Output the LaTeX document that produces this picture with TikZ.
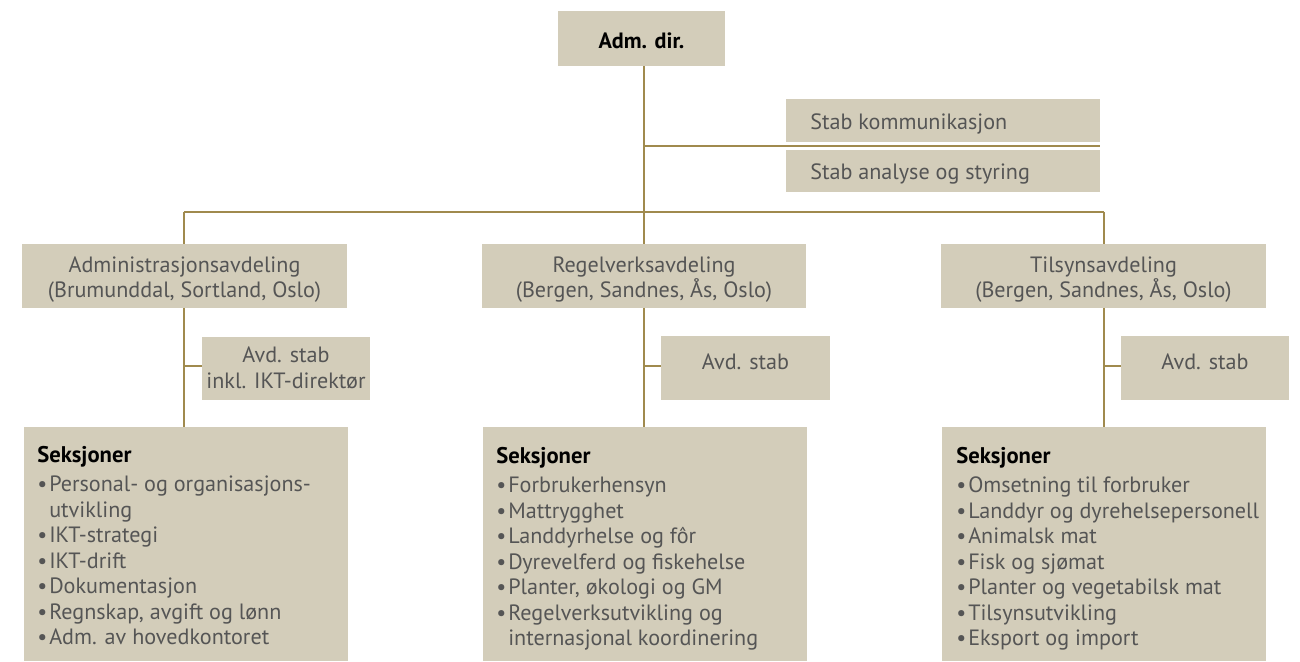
\documentclass[tikz,border=0pt]{standalone}
\usepackage{fontspec}
\setmainfont{PT Sans}
\definecolor{boxfill}{HTML}{D3CDBA}
\definecolor{conncol}{HTML}{A08A4E}
\definecolor{txt}{HTML}{555555}
\newcommand\itm[1]{\makebox[9pt][l]{\textbullet}#1}
\newcommand\cnt[1]{\makebox[9pt][l]{}#1}
\begin{document}
\begin{tikzpicture}[x=0.75pt,y=-0.75pt,
  box/.style={fill=boxfill, draw=none, inner sep=0pt},
  lbl/.style={inner sep=0pt, text=txt, font=\fontsize{16.6}{18.8}\selectfont, align=center},
  conn/.style={draw=conncol, line width=0.9pt},
  seclist/.style={anchor=north west, align=left, inner sep=0pt, text=txt,
    font=\fontsize{16.6}{19.1}\selectfont}]
\useasboundingbox[fill=white] (0,0) rectangle (1300,661);

% coordinates
\coordinate (top) at (644,66);
\coordinate (j1) at (644,146);
\coordinate (bar) at (644,212);
\coordinate (barL) at (184,212);
\coordinate (barR) at (1104,212);

% connectors (drawn first, boxes cover them)
\draw[conn] (top) -- (bar);
\draw[conn] (j1) -- (1100,146) coordinate (j1e);
\draw[conn] (barL) -- (barR);
\draw[conn] (barL) -- (184,427) coordinate (lA);
\draw[conn] (bar) -- (644,427) coordinate (lR);
\draw[conn] (barR) -- (1104,427) coordinate (lT);
\draw[conn] (184,366) coordinate (bA) -- (202,366) coordinate (bAe);
\draw[conn] (644,366) coordinate (bR) -- (661,366) coordinate (bRe);
\draw[conn] (1104,366) coordinate (bT) -- (1121,366) coordinate (bTe);

% top
\node[box, minimum width=167*0.75pt, minimum height=55*0.75pt] (adm) at (641.5,38.5) {};
\node[lbl, text=black, font=\fontsize{16.6}{18}\selectfont\bfseries] (admT) at (641.5,40.5) {Adm. dir.};

% staffs
\node[box, minimum width=314*0.75pt, minimum height=43*0.75pt] (sk) at (943,120.5) {};
\node[lbl, anchor=west] (skT) at (810,123.5) {Stab kommunikasjon};
\node[box, minimum width=314*0.75pt, minimum height=42*0.75pt] (sa) at (943,171) {};
\node[lbl, anchor=west] (saT) at (810,174) {Stab analyse og styring};

% departments
\node[box, minimum width=325*0.75pt, minimum height=64*0.75pt] (adep) at (184.5,276) {};
\node[lbl] (adepT) at (184.5,280) {Administrasjonsavdeling\\(Brumunddal, Sortland, Oslo)};
\node[box, minimum width=324*0.75pt, minimum height=64*0.75pt] (rdep) at (644,276) {};
\node[lbl] (rdepT) at (644,280) {Regelverksavdeling\\(Bergen, Sandnes, Ås, Oslo)};
\node[box, minimum width=325*0.75pt, minimum height=64*0.75pt] (tdep) at (1103.5,276) {};
\node[lbl] (tdepT) at (1103.5,280) {Tilsynsavdeling\\(Bergen, Sandnes, Ås, Oslo)};

% avd stab
\node[box, minimum width=168*0.75pt, minimum height=63*0.75pt] (astab) at (286,368.5) {};
\node[lbl, font=\fontsize{16.6}{19.5}\selectfont] (astabT) at (286,367.5) {Avd. stab\\inkl. IKT-direktør};
\node[box, minimum width=169*0.75pt, minimum height=64*0.75pt] (rstab) at (745.5,368) {};
\node[lbl] (rstabT) at (745.5,362) {Avd. stab};
\node[box, minimum width=168*0.75pt, minimum height=64*0.75pt] (tstab) at (1205,368) {};
\node[lbl] (tstabT) at (1205,362) {Avd. stab};

% section boxes
\node[box, minimum width=324*0.75pt, minimum height=234*0.75pt] (asec) at (186,544) {};
\node[box, minimum width=324*0.75pt, minimum height=234*0.75pt] (rsec) at (645,544) {};
\node[box, minimum width=324*0.75pt, minimum height=234*0.75pt] (tsec) at (1104,544) {};

\node[seclist] (atxt) at (37,446.5) {{\color{black}\fontsize{17}{19}\selectfont\bfseries Seksjoner}\\[2.5pt]
  \itm{Personal- og organisasjons-}\\
  \cnt{utvikling}\\
  \itm{IKT-strategi}\\
  \itm{IKT-drift}\\
  \itm{Dokumentasjon}\\
  \itm{Regnskap, avgift og lønn}\\
  \itm{Adm. av hovedkontoret}};
\node[seclist] (rtxt) at (496,447.5) {{\color{black}\fontsize{17}{19}\selectfont\bfseries Seksjoner}\\[2.5pt]
  \itm{Forbrukerhensyn}\\
  \itm{Mattrygghet}\\
  \itm{Landdyrhelse og fôr}\\
  \itm{Dyrevelferd og fiskehelse}\\
  \itm{Planter, økologi og GM}\\
  \itm{Regelverksutvikling og}\\
  \cnt{internasjonal koordinering}};
\node[seclist] (ttxt) at (956,447.5) {{\color{black}\fontsize{17}{19}\selectfont\bfseries Seksjoner}\\[2.5pt]
  \itm{Omsetning til forbruker}\\
  \itm{Landdyr og dyrehelsepersonell}\\
  \itm{Animalsk mat}\\
  \itm{Fisk og sjømat}\\
  \itm{Planter og vegetabilsk mat}\\
  \itm{Tilsynsutvikling}\\
  \itm{Eksport og import}};
\end{tikzpicture}
\end{document}
